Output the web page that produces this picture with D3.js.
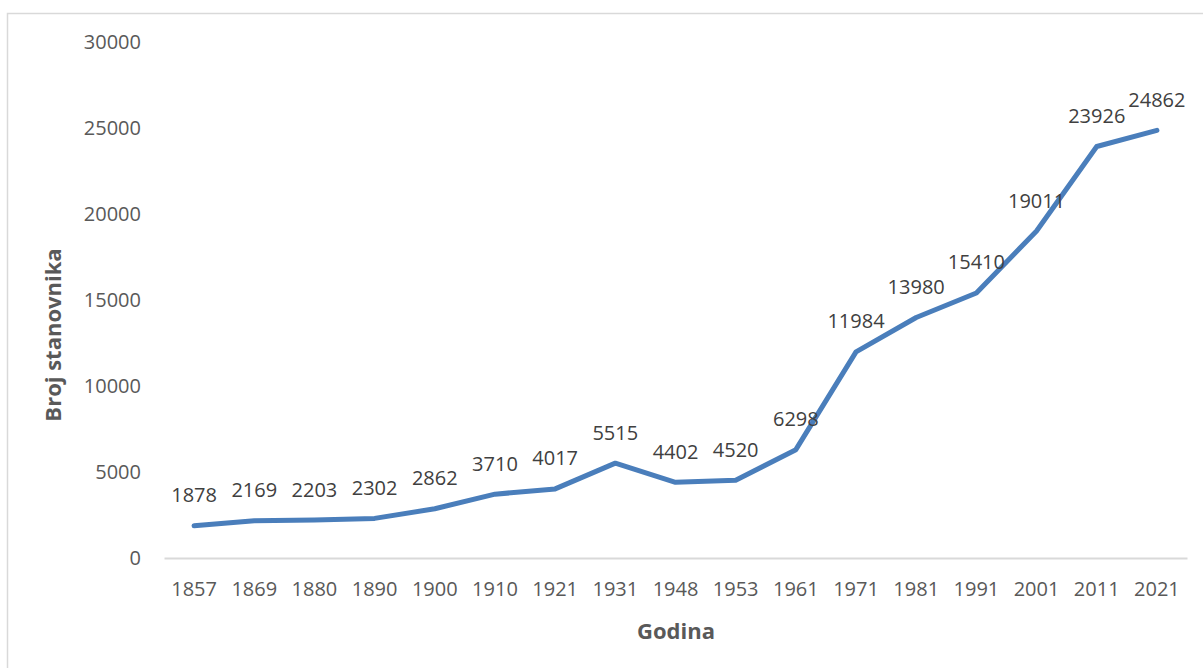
<!DOCTYPE html>
<html><head><meta charset="utf-8">
<script src="https://cdn.jsdelivr.net/npm/d3@7"></script>
<style>body{margin:0;background:#fff}svg{display:block}text{font-family:"Open Sans",sans-serif}</style>
</head><body><svg id="c" width="1203" height="668"></svg>
<script>
const years = ["1857","1869","1880","1890","1900","1910","1921","1931","1948","1953","1961","1971","1981","1991","2001","2011","2021"];
const population = [1878,2169,2203,2302,2862,3710,4017,5515,4402,4520,6298,11984,13980,15410,19011,23926,24862];
const yTicks = [0,5000,10000,15000,20000,25000,30000];
const xTitle = "Godina";
const yTitle = "Broj stanovnika";

const svg = d3.select("#c");
svg.append("rect").attr("x",7.5).attr("y",13.5).attr("width",1300).attr("height",800)
  .attr("fill","#fff").attr("stroke","#d9d9d9").attr("stroke-width",1.5);

const x = d3.scaleBand().domain(years).range([164,1187]);
const y = d3.scaleLinear().domain([0,30000]).range([558,42]);

const xAxis = svg.append("g").attr("transform","translate(0,558)")
  .call(d3.axisBottom(x).tickSize(0).tickPadding(24));
xAxis.select(".domain").attr("stroke","#d9d9d9").attr("stroke-width",2);
xAxis.selectAll("text").attr("fill","#595959").style("font-size","20px").style("font-family","Open Sans");

const yAxis = svg.append("g").attr("transform","translate(141,0)")
  .call(d3.axisLeft(y).tickValues(yTicks).tickSize(0).tickPadding(0).tickFormat(d3.format("d")));
yAxis.select(".domain").remove();
yAxis.selectAll("text").attr("fill","#595959").style("font-size","20px").style("font-family","Open Sans");

const cx = d => x(d) + x.bandwidth()/2;
const line = d3.line().x((d,i)=>cx(years[i])).y(d=>y(d));
svg.append("path").datum(population).attr("d",line)
  .attr("fill","none").attr("stroke","#4a7ebb").attr("stroke-width",5)
  .attr("stroke-linejoin","round").attr("stroke-linecap","round");

svg.append("g").selectAll("text").data(population).join("text")
  .attr("x",(d,i)=>cx(years[i])).attr("y",d=>y(d)-31)
  .attr("text-anchor","middle").attr("dominant-baseline","central")
  .attr("fill","#404040").style("font-size","20px").text(d=>d);

svg.append("text").attr("x",676).attr("y",630).attr("text-anchor","middle")
  .attr("dominant-baseline","central").attr("fill","#595959")
  .style("font-size","22px").style("font-weight","bold").text(xTitle);
svg.append("text").attr("transform","translate(52,335) rotate(-90)").attr("text-anchor","middle")
  .attr("dominant-baseline","central").attr("fill","#595959")
  .style("font-size","22px").style("font-weight","bold").text(yTitle);
</script></body></html>
